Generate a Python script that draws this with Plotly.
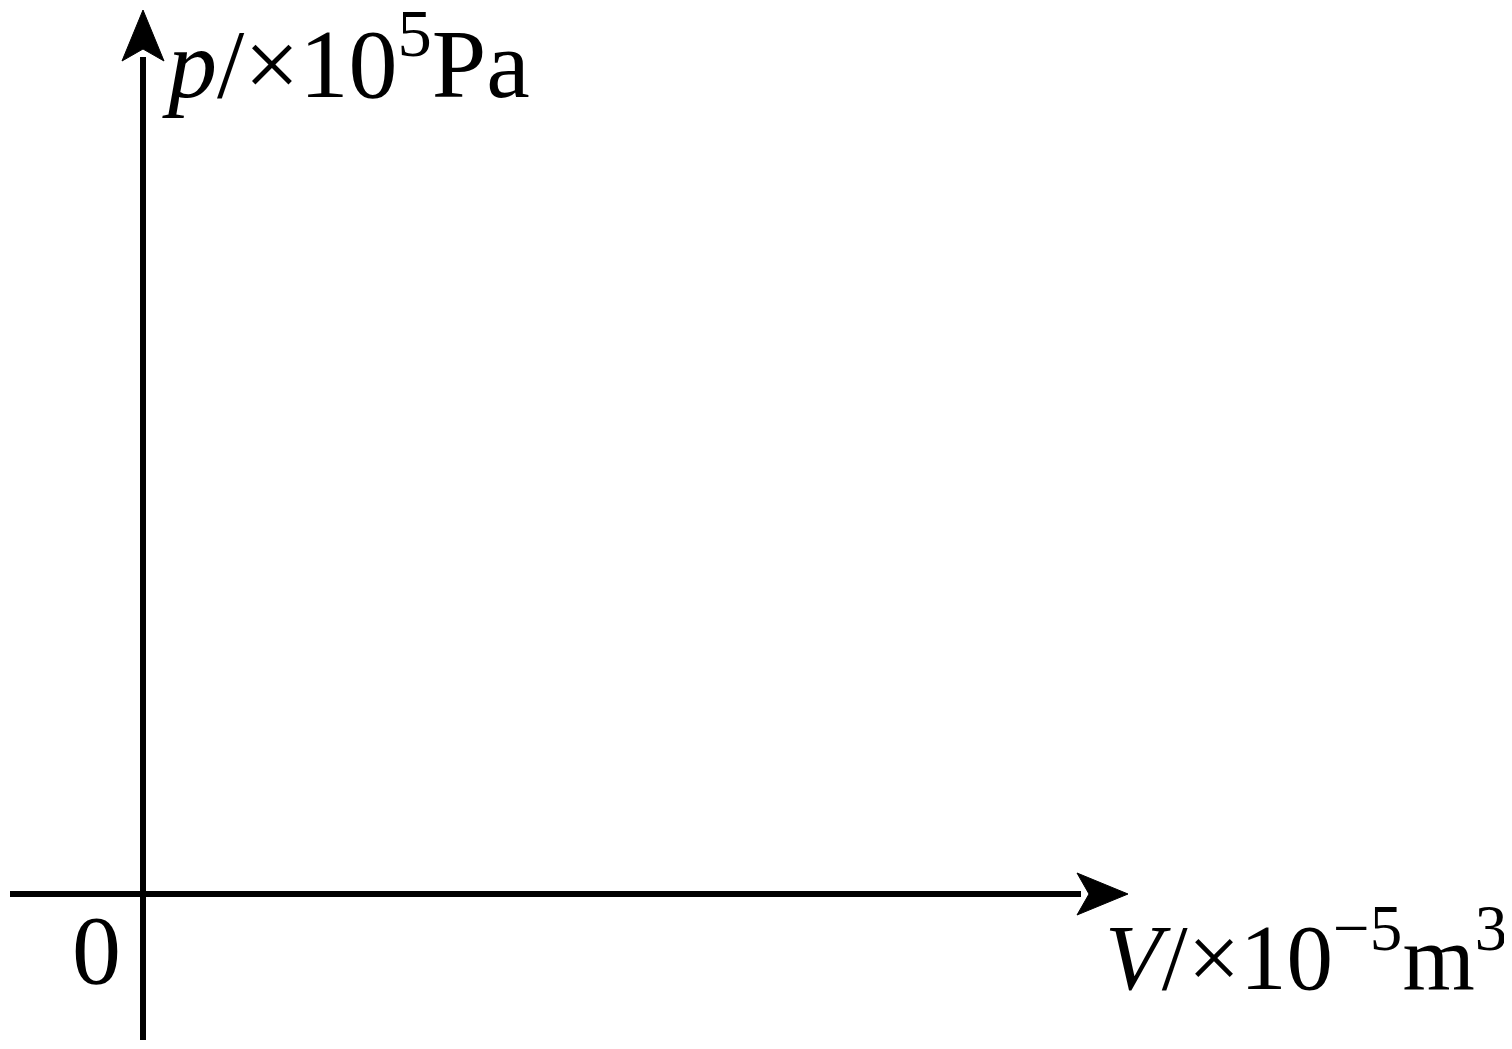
import plotly.graph_objects as go

# Axis extents (data units = pixels relative to the origin)
x_axis_start = -133
x_axis_end = 985
y_axis_start = -146
y_axis_end = 884
arrow_len = 51
arrow_half = 21

x_label = "<i>V</i>/×10<sup>−5</sup>m<sup>3</sup>"
y_label = "<i>p</i>/×10<sup>5</sup>Pa"
origin_label = "0"

FONT = "Liberation Serif, Times New Roman, serif"
LW = 6
FS = 98
FS_X = 93

fig = go.Figure()

# horizontal axis line
fig.add_trace(go.Scatter(x=[x_axis_start, x_axis_end - arrow_len + 4], y=[0, 0], mode="lines",
                         line=dict(color="black", width=LW), hoverinfo="skip"))
# vertical axis line
fig.add_trace(go.Scatter(x=[0, 0], y=[y_axis_start, y_axis_end - arrow_len + 4], mode="lines",
                         line=dict(color="black", width=LW), hoverinfo="skip"))
# arrowheads
fig.add_trace(go.Scatter(x=[x_axis_end, x_axis_end - arrow_len, x_axis_end - arrow_len + 12, x_axis_end - arrow_len, x_axis_end],
                         y=[0, arrow_half, 0, -arrow_half, 0], mode="lines", fill="toself",
                         fillcolor="black", line=dict(color="black", width=1), hoverinfo="skip"))
fig.add_trace(go.Scatter(x=[0, -arrow_half, 0, arrow_half, 0],
                         y=[y_axis_end, y_axis_end - arrow_len, y_axis_end - arrow_len + 12, y_axis_end - arrow_len, y_axis_end],
                         mode="lines", fill="toself",
                         fillcolor="black", line=dict(color="black", width=1), hoverinfo="skip"))

fig.add_annotation(x=17, y=838, xref="x", yref="y", text=y_label, showarrow=False,
                   xanchor="left", yanchor="middle", font=dict(family=FONT, size=FS, color="black"))
fig.add_annotation(x=960, y=-56, xref="x", yref="y", text=x_label, showarrow=False,
                   xanchor="left", yanchor="middle", font=dict(family=FONT, size=FS_X, color="black"))
fig.add_annotation(x=-47, y=-56, xref="x", yref="y", text=origin_label, showarrow=False,
                   xanchor="center", yanchor="middle", font=dict(family=FONT, size=FS, color="black"))

# page body has an 8px default margin: figure is sized to fit inside it
fig.update_layout(
    width=1496, height=1033,
    margin=dict(l=0, r=0, t=0, b=0),
    paper_bgcolor="white", plot_bgcolor="white",
    showlegend=False,
    xaxis=dict(range=[-135, 1361], visible=False, fixedrange=True),
    yaxis=dict(range=[-147, 886], visible=False, fixedrange=True),
)

fig.write_html("out.html")
